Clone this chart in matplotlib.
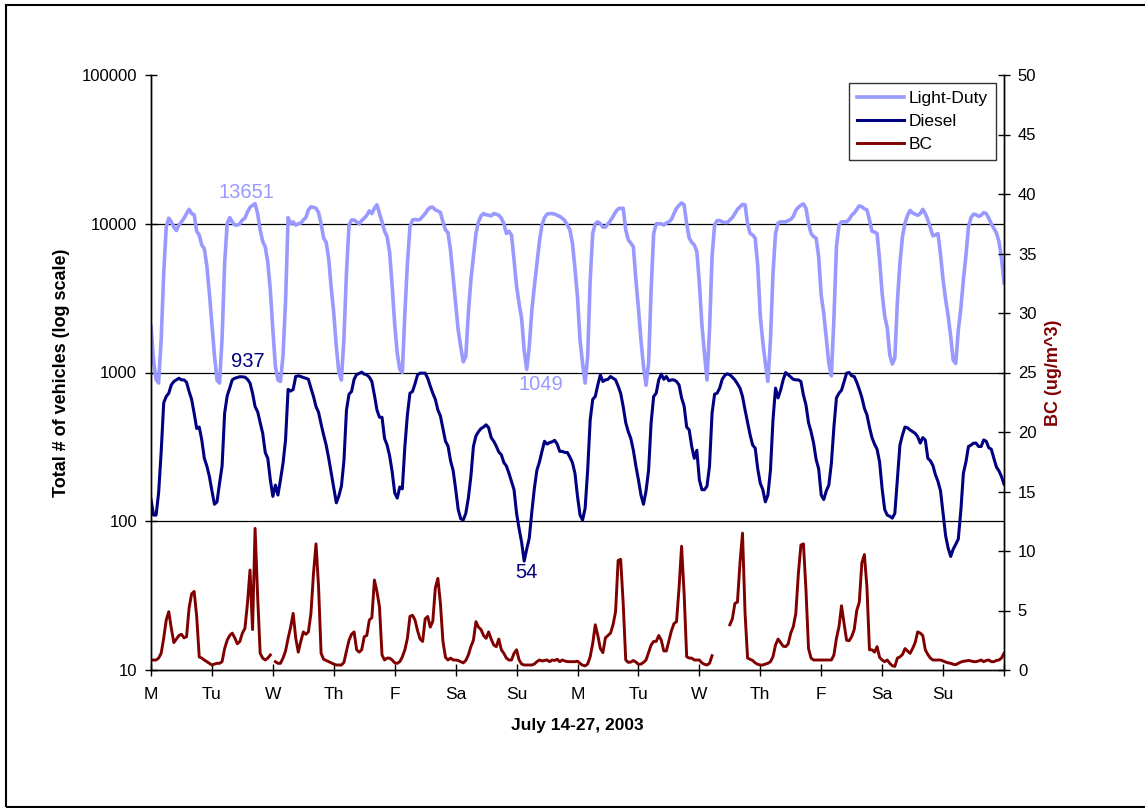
import numpy as np
import matplotlib
matplotlib.use("Agg")
import matplotlib.pyplot as plt
from matplotlib.patches import Rectangle
from matplotlib.ticker import NullLocator, FixedLocator, FuncFormatter

plt.rcParams['font.family'] = ['Liberation Sans', 'DejaVu Sans']

nan = np.nan

# x axis: one tick per day, July 14 (Mon) .. July 27 (Sun)
day_labels = ["M", "Tu", "W", "Th", "F", "Sa", "Su",
              "M", "Tu", "W", "Th", "F", "Sa", "Su"]

# hourly light-duty vehicle counts, one row per day (last value = Jul 28 00h)
light_duty = [
    2050, 1200, 900, 850, 1650, 4600, 9500, 10900, 10300, 9500, 9000, 9800, 10300, 10900, 11700, 12500, 11700, 11500, 8900, 8400, 7200, 6800, 5200, 3400,
    2100, 1300, 890, 850, 1700, 5400, 10000, 11000, 10300, 9800, 9800, 10000, 10600, 10900, 12000, 12900, 13300, 13651, 11700, 9100, 7600, 7000, 5500, 3600,
    1930, 1100, 890, 870, 1300, 3000, 11000, 10000, 10300, 9800, 10000, 10100, 10600, 11000, 12400, 13000, 12900, 12700, 11900, 10000, 8000, 7500, 5800, 3700,
    2500, 1490, 1000, 890, 1700, 4700, 9800, 10600, 10600, 10300, 10000, 10500, 10900, 11400, 12200, 11700, 12700, 13400, 11700, 10300, 8900, 8200, 6400, 3800,
    2100, 1350, 1050, 1000, 2500, 5400, 9500, 10600, 10700, 10600, 10700, 11200, 11700, 12400, 12900, 12900, 12400, 12200, 11900, 10300, 9100, 8700, 6600, 4400,
    2900, 1930, 1490, 1180, 1280, 2500, 4200, 6000, 8600, 10300, 11300, 11700, 11500, 11400, 11300, 11700, 11600, 11400, 10900, 10000, 8600, 8900, 8400, 5700,
    3800, 2900, 2300, 1400, 1049, 1490, 2600, 3800, 5400, 7600, 9800, 11000, 11600, 11700, 11700, 11600, 11400, 11200, 10900, 10500, 9800, 9100, 7400, 5000,
    3200, 1650, 1150, 850, 1280, 4200, 8600, 10000, 10300, 10000, 9500, 9500, 10000, 10500, 11200, 12000, 12600, 12700, 12700, 9100, 7800, 7400, 7000, 4200,
    2700, 1650, 1100, 820, 1150, 3600, 8600, 10000, 10000, 10000, 9800, 10100, 10300, 10700, 11700, 12700, 13300, 13800, 13400, 10000, 8000, 7500, 7200, 6500,
    4000, 2100, 1350, 890, 1930, 6000, 9800, 10500, 10500, 10300, 10200, 10200, 10600, 11000, 11700, 12500, 13000, 13500, 13400, 10000, 8600, 8400, 8000, 5200,
    2400, 1600, 1150, 870, 1650, 4600, 8600, 10100, 10300, 10300, 10300, 10500, 10700, 11200, 12300, 12900, 13300, 13600, 12700, 10100, 8600, 8200, 8000, 6000,
    3300, 2500, 1700, 1150, 950, 2300, 7000, 9800, 10300, 10300, 10300, 10700, 11400, 11800, 12500, 13200, 13000, 12600, 12400, 10600, 8900, 8800, 8600, 5700,
    3400, 2400, 2000, 1320, 1140, 1250, 3000, 5400, 8200, 10100, 11400, 12300, 11800, 11600, 11400, 11700, 12500, 11700, 10600, 9400, 8300, 8400, 8600, 6200,
    4200, 3100, 2400, 1750, 1210, 1150, 1930, 2700, 4200, 6100, 9500, 11000, 11600, 11500, 11200, 11400, 11900, 11700, 10900, 10000, 9300, 8700, 7600, 5900,
    4000,
]

# hourly diesel vehicle counts
diesel = [
    140, 110, 110, 155, 290, 625, 690, 726, 825, 870, 892, 915, 892, 892, 860, 745, 660, 532, 420, 430, 352, 265, 235, 200,
    160, 130, 135, 180, 235, 532, 695, 785, 892, 915, 925, 937, 935, 930, 900, 850, 726, 590, 545, 460, 390, 290, 265, 190,
    147, 175, 150, 190, 245, 352, 770, 750, 770, 940, 950, 940, 925, 915, 900, 785, 690, 590, 540, 450, 380, 325, 265, 210,
    165, 133, 148, 172, 255, 560, 715, 745, 900, 970, 985, 1005, 975, 965, 930, 870, 705, 560, 500, 500, 360, 325, 275, 215,
    155, 143, 170, 165, 318, 520, 726, 745, 840, 965, 990, 990, 990, 915, 810, 726, 660, 560, 510, 420, 345, 320, 255, 220,
    165, 120, 104, 102, 113, 143, 200, 318, 375, 400, 420, 430, 445, 425, 365, 345, 320, 292, 280, 248, 235, 210, 185, 163,
    113, 89, 72, 54, 65, 77, 115, 166, 220, 250, 295, 345, 330, 338, 342, 350, 330, 295, 295, 290, 290, 270, 248, 210,
    147, 110, 102, 122, 220, 480, 660, 690, 825, 965, 870, 892, 900, 940, 915, 892, 810, 726, 590, 460, 400, 360, 300, 235,
    190, 150, 130, 160, 220, 460, 690, 726, 892, 975, 900, 940, 880, 892, 892, 870, 825, 675, 595, 430, 411, 318, 265, 300,
    190, 163, 163, 172, 235, 532, 715, 726, 785, 900, 955, 980, 965, 930, 892, 840, 785, 690, 560, 460, 380, 325, 310, 225,
    180, 163, 135, 150, 220, 480, 785, 675, 760, 892, 1000, 965, 930, 900, 892, 892, 870, 705, 605, 460, 400, 335, 260, 225,
    150, 140, 160, 175, 245, 430, 675, 726, 760, 870, 990, 1000, 950, 940, 860, 770, 680, 575, 520, 430, 365, 330, 305, 250,
    165, 120, 110, 108, 105, 113, 190, 325, 380, 430, 425, 411, 400, 390, 370, 335, 365, 352, 265, 255, 237, 205, 185, 160,
    113, 80, 66, 58, 65, 70, 76, 118, 210, 250, 318, 325, 335, 335, 318, 318, 352, 345, 312, 305, 265, 232, 218, 200,
    178,
]

# hourly black carbon, ug/m^3 (nan = missing)
bc = [
    0.84, 0.84, 0.84, 1.0, 1.4, 2.66, 4.2, 4.9, 3.5, 2.3, 2.6, 2.9, 3.0, 2.7, 2.8, 5.2, 6.4, 6.6, 4.5, 1.1, 1.0, 0.84, 0.7, 0.56,
    0.42, 0.5, 0.56, 0.56, 0.7, 1.8, 2.5, 2.9, 3.1, 2.7, 2.2, 2.4, 3.1, 3.5, 5.6, 8.4, 3.4, 11.9, 6.2, 1.4, 1.0, 0.84, 1.0, 1.26,
    nan, 0.7, 0.56, 0.56, 1.0, 1.6, 2.66, 3.6, 4.76, 2.7, 1.5, 2.4, 3.2, 3.0, 3.2, 4.76, 8.1, 10.6, 7.0, 1.4, 0.9, 0.8, 0.7, 0.6,
    0.5, 0.42, 0.42, 0.42, 0.64, 1.6, 2.5, 3.0, 3.2, 1.7, 1.5, 1.7, 2.8, 2.9, 4.2, 4.4, 7.56, 6.6, 5.3, 1.26, 0.84, 1.0, 1.0, 0.84,
    0.6, 0.56, 0.7, 1.1, 1.7, 2.66, 4.5, 4.6, 4.2, 3.3, 2.6, 2.4, 4.3, 4.5, 3.6, 4.1, 6.9, 7.7, 5.6, 2.4, 1.06, 0.84, 1.0, 0.84,
    0.84, 0.8, 0.7, 0.6, 0.8, 1.26, 1.96, 2.5, 4.06, 3.6, 3.4, 2.9, 2.66, 3.2, 2.6, 2.1, 1.96, 2.6, 1.7, 1.4, 1.0, 0.84, 0.84, 1.4,
    1.7, 0.84, 0.5, 0.42, 0.42, 0.42, 0.42, 0.5, 0.7, 0.84, 0.76, 0.8, 0.84, 0.7, 0.84, 0.8, 0.9, 0.7, 0.84, 0.76, 0.7, 0.7, 0.7, 0.7,
    0.74, 0.56, 0.4, 0.35, 0.5, 1.12, 2.24, 3.8, 2.9, 1.8, 1.46, 2.7, 2.9, 3.1, 3.8, 4.9, 9.2, 9.3, 5.6, 0.84, 0.64, 0.67, 0.8, 0.67,
    0.48, 0.5, 0.64, 0.84, 1.46, 2.1, 2.4, 2.4, 2.9, 2.5, 1.6, 1.6, 2.46, 3.3, 3.9, 4.06, 6.9, 10.4, 6.4, 1.12, 1.0, 1.0, 0.84, 0.84,
    0.84, 0.6, 0.48, 0.42, 0.56, 1.2, nan, nan, nan, nan, nan, nan, 3.8, 4.3, 5.6, 5.7, 9.0, 11.5, 4.76, 1.0, 0.9, 0.8, 0.6, 0.48,
    0.42, 0.42, 0.5, 0.56, 0.7, 1.12, 2.1, 2.6, 2.3, 2.0, 1.96, 2.2, 3.1, 3.64, 4.76, 8.1, 10.5, 10.6, 6.7, 1.8, 1.0, 0.84, 0.84, 0.84,
    0.84, 0.84, 0.84, 0.84, 0.84, 1.26, 2.66, 3.64, 5.4, 3.9, 2.5, 2.46, 2.8, 3.4, 5.0, 5.7, 9.0, 9.7, 7.0, 1.7, 1.7, 1.5, 1.96, 1.06,
    0.84, 0.7, 0.84, 0.56, 0.36, 0.3, 1.0, 1.1, 1.3, 1.8, 1.6, 1.4, 1.8, 2.3, 3.2, 3.1, 2.9, 1.7, 1.3, 1.0, 0.84, 0.84, 0.84, 0.84,
    0.76, 0.67, 0.6, 0.56, 0.48, 0.45, 0.56, 0.67, 0.73, 0.76, 0.8, 0.76, 0.7, 0.7, 0.76, 0.84, 0.7, 0.8, 0.84, 0.7, 0.7, 0.8, 0.84, 1.0,
    1.4,
]

# value labels written on the chart: (text, hour, value)
ld_notes = [("13651", 37.4, 16100), ("1049", 153.6, 835)]
diesel_notes = [("937", 38.2, 1177), ("54", 147.7, 44.9)]

LD_COLOR = "#9999FF"
DIESEL_COLOR = "#000080"
BC_COLOR = "#800000"
NARROW = ["Liberation Sans Narrow", "Liberation Sans"]

hours = np.arange(len(light_duty))

fig = plt.figure(figsize=(11.45, 8.08), dpi=100)
ax = fig.add_axes([151 / 1145, 1 - 670 / 808, 853 / 1145, 595 / 808])
ax2 = ax.twinx()

# left axis: vehicle counts on a log scale
ax.set_yscale("log")
ax.set_ylim(10, 100000)
ax.set_xlim(0, 336)
for level in [100, 1000, 10000]:
    ax.axhline(level, color="black", lw=0.9, zorder=0.5)

l1, = ax.plot(hours, light_duty, color=LD_COLOR, lw=2.6, label="Light-Duty", zorder=2)
l2, = ax.plot(hours, diesel, color=DIESEL_COLOR, lw=2.2, label="Diesel", zorder=2)

ax.yaxis.set_major_locator(FixedLocator([10, 100, 1000, 10000, 100000]))
ax.yaxis.set_minor_locator(NullLocator())
ax.yaxis.set_major_formatter(FuncFormatter(lambda v, p: "%d" % round(v)))
ax.tick_params(axis="y", direction="inout", length=8, width=1, labelsize=12, pad=6)

ax.set_xticks(np.arange(0, 337, 24))
ax.set_xticklabels(day_labels + [""], family=NARROW, fontsize=12.5)
ax.tick_params(axis="x", direction="inout", length=8, width=1, pad=8)

ax.set_ylabel("Total # of vehicles (log scale)", fontsize=13, fontweight="bold")
ax.yaxis.set_label_coords(-0.095, 0.5)
ax.set_xlabel("July 14-27, 2003", fontsize=12.5, fontweight="bold", family=NARROW)
ax.xaxis.set_label_coords(0.5, -0.08)

for text, h, v in ld_notes:
    ax.text(h, v, text, color=LD_COLOR, fontsize=14.5, ha="center", va="center")
for text, h, v in diesel_notes:
    ax.text(h, v, text, color=DIESEL_COLOR, fontsize=14.5, ha="center", va="center")

# right axis: black carbon
l3, = ax2.plot(hours, bc, color=BC_COLOR, lw=2.1, label="BC")
ax2.set_ylim(0, 50)
ax2.set_yticks(np.arange(0, 51, 5))
ax2.tick_params(axis="y", direction="inout", length=8, width=1, labelsize=12, pad=6)
ax2.set_ylabel("BC (ug/m^3)", color=BC_COLOR, fontsize=13, fontweight="bold")
ax2.yaxis.set_label_coords(1.048, 0.5)

for a in (ax, ax2):
    a.spines["top"].set_visible(False)
    for s in ("left", "right", "bottom"):
        a.spines[s].set_linewidth(1.0)
        a.spines[s].set_color("black")

leg = ax2.legend(handles=[l1, l2, l3], loc="upper right", bbox_to_anchor=(0.9906, 0.9866),
                 borderaxespad=0, fontsize=12.5, frameon=True, fancybox=False,
                 handlelength=2.7, handletextpad=0.3, borderpad=0.45, labelspacing=0.45)
leg.get_frame().set_edgecolor("black")
leg.get_frame().set_linewidth(1.0)

# outer chart border
fig.patches.append(Rectangle((6 / 1145, 1 / 808), 1.0, 1 - 6 / 808, transform=fig.transFigure,
                             fill=False, edgecolor="black", lw=1.5))

fig.savefig("out.png", dpi=100)
